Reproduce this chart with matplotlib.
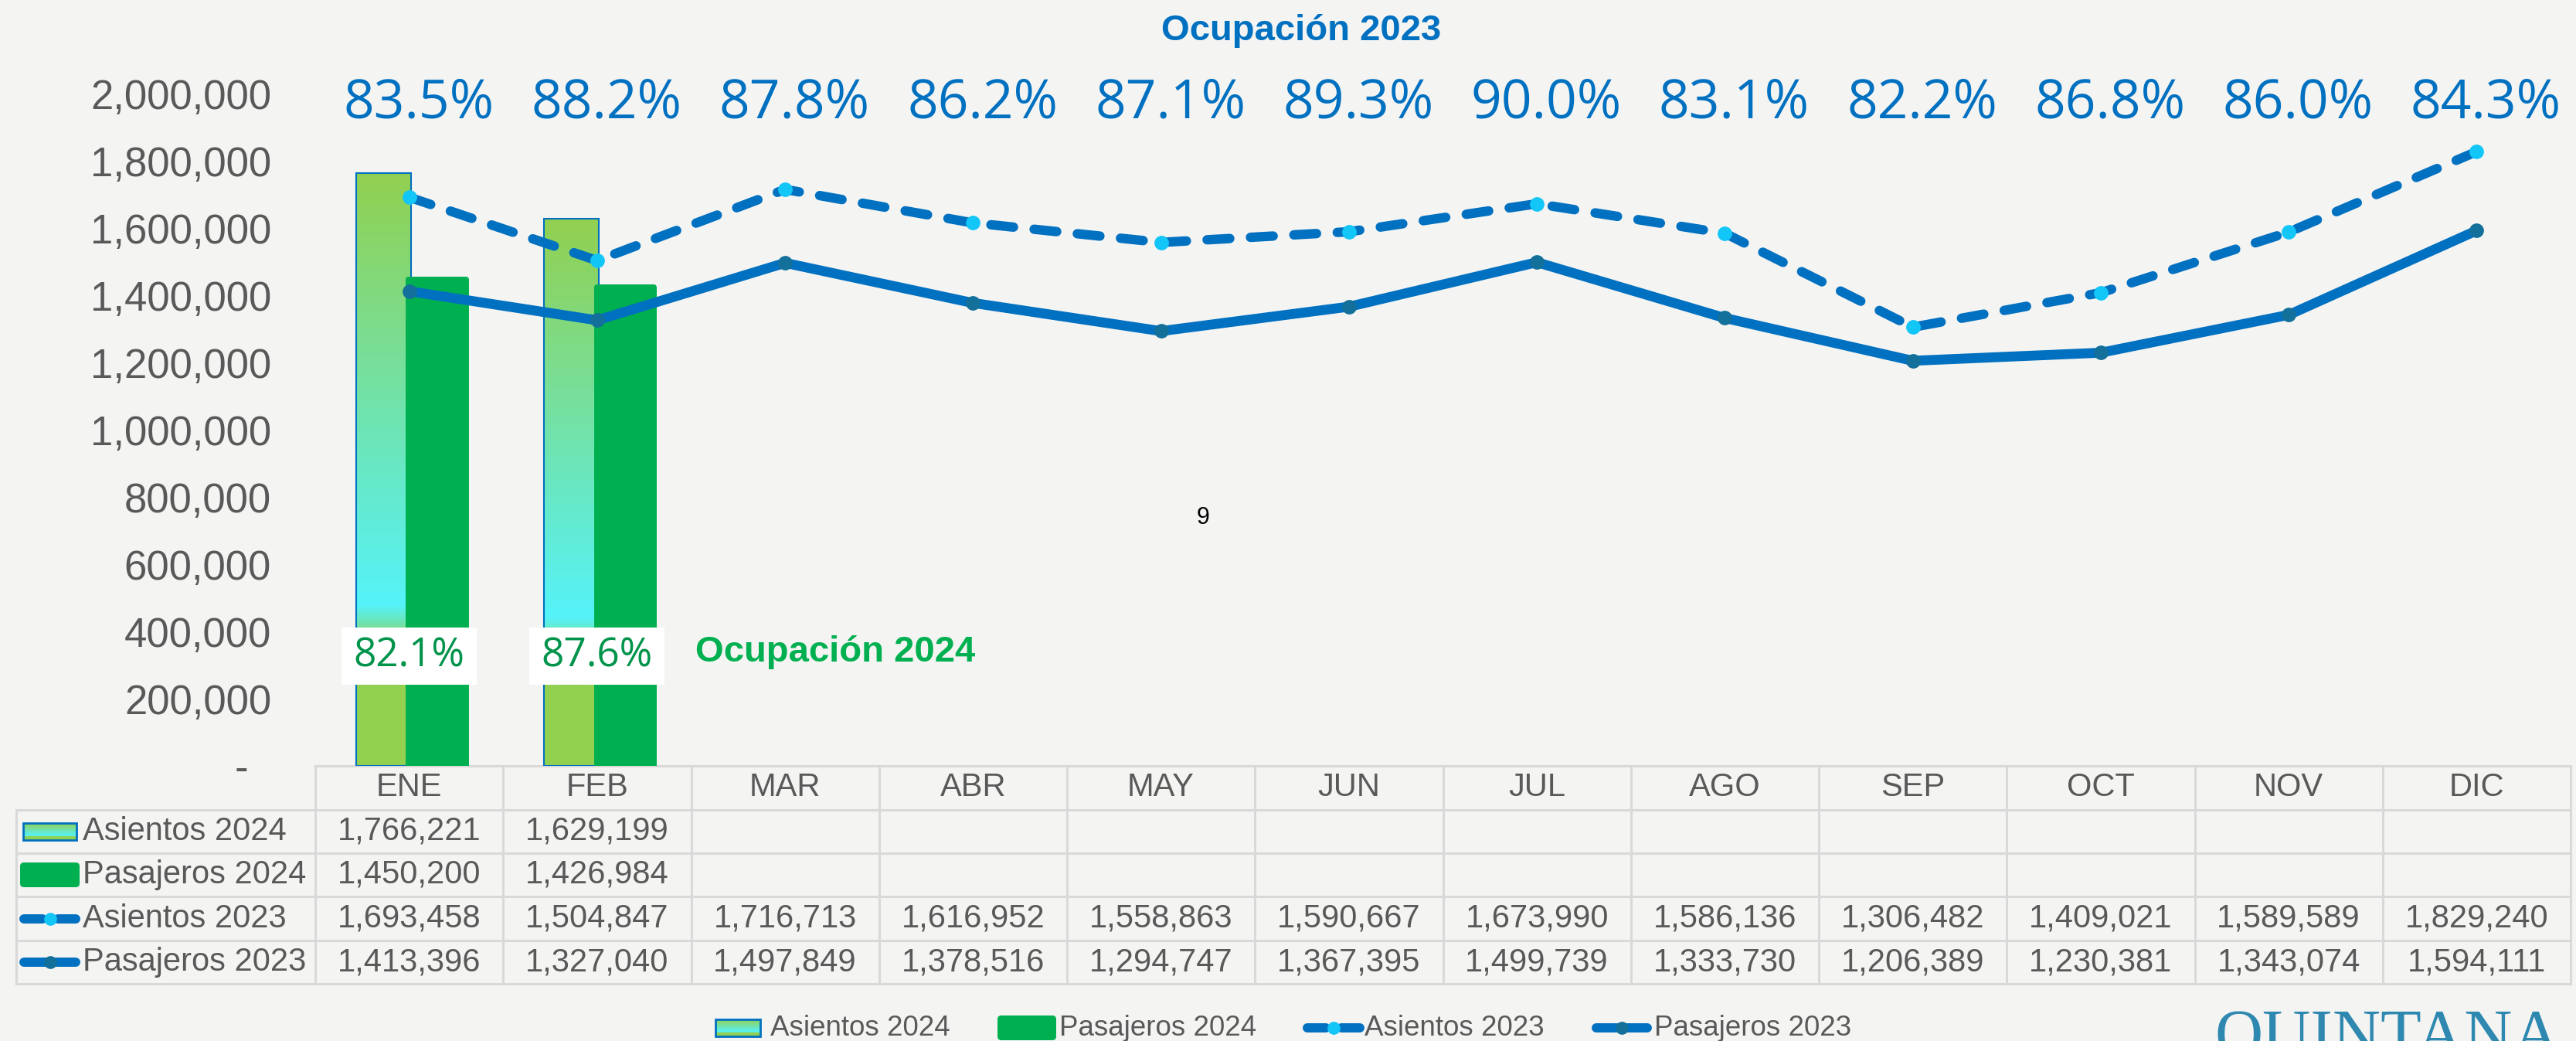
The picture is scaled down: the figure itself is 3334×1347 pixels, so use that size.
import numpy as np
import matplotlib.pyplot as plt
from matplotlib.colors import LinearSegmentedColormap
from matplotlib.patches import Rectangle, FancyBboxPatch
from matplotlib.ticker import FuncFormatter

plt.rcParams['font.family'] = ['Liberation Sans', 'DejaVu Sans']

# datos
meses = ['ENE', 'FEB', 'MAR', 'ABR', 'MAY', 'JUN', 'JUL', 'AGO', 'SEP', 'OCT', 'NOV', 'DIC']
asientos_2024 = [1766221, 1629199]
pasajeros_2024 = [1450200, 1426984]
asientos_2023 = [1693458, 1504847, 1716713, 1616952, 1558863, 1590667,
                 1673990, 1586136, 1306482, 1409021, 1589589, 1829240]
pasajeros_2023 = [1413396, 1327040, 1497849, 1378516, 1294747, 1367395,
                  1499739, 1333730, 1206389, 1230381, 1343074, 1594111]
ocupacion_2023 = ['83.5%', '88.2%', '87.8%', '86.2%', '87.1%', '89.3%',
                  '90.0%', '83.1%', '82.2%', '86.8%', '86.0%', '84.3%']
ocupacion_2024 = ['82.1%', '87.6%']
series = ['Asientos 2024', 'Pasajeros 2024', 'Asientos 2023', 'Pasajeros 2023']

# colores
AZUL = '#0070C0'
CIAN = '#12C6F8'
MARCA_PAS = '#13709A'
VERDE = '#00B050'
VERDE_TXT = '#00934A'
GRIS = '#595959'
REJILLA = '#D9D9D9'
FONDO = '#F4F4F3'
cmap_asientos = LinearSegmentedColormap.from_list(
    'asientos', [(0, '#92D050'), (0.2, '#92D050'), (0.27, '#55F3FA'), (1, '#92D050')])
grad = np.linspace(0, 1, 256).reshape(-1, 1)

W, H = 3334, 1347
fig = plt.figure(figsize=(W / 100, H / 100), dpi=100, facecolor=FONDO)

# capa en pixeles para tabla, leyenda y textos sueltos
ov = fig.add_axes([0, 0, 1, 1], zorder=0)
ov.set_xlim(0, W)
ov.set_ylim(H, 0)
ov.axis('off')

x_ini, x_fin = 408, 3327
y_cero, y_tope = 991, 122
ax = fig.add_axes([x_ini / W, (H - y_cero) / H, (x_fin - x_ini) / W, (y_cero - y_tope) / H], zorder=1)
ax.patch.set_alpha(0)
for s in ax.spines.values():
    s.set_visible(False)

# barras 2024
x24 = np.arange(len(asientos_2024))
barras_a = ax.bar(x24 - 0.282, asientos_2024, width=0.29, align='edge',
                  color='none', edgecolor=AZUL, linewidth=1.5, zorder=3)
for b in barras_a:
    im = ax.imshow(grad, extent=[b.get_x(), b.get_x() + b.get_width(), 0, b.get_height()],
                   origin='lower', aspect='auto', cmap=cmap_asientos, zorder=2)
    im.set_clip_path(b)
ax.bar(x24 - 0.005, pasajeros_2024, width=0.305, align='edge', color=VERDE,
       edgecolor=VERDE, linewidth=5, joinstyle='round', zorder=4)

# lineas 2023
x23 = np.arange(len(meses))
ax.plot(x23, asientos_2023, color=AZUL, lw=8.8, dashes=(2.4, 2.2), dash_capstyle='round',
        marker='o', ms=12.5, mfc=CIAN, mec=CIAN, zorder=5)
ax.plot(x23, pasajeros_2023, color=AZUL, lw=9.2, solid_capstyle='round', solid_joinstyle='round',
        marker='o', ms=12.5, mfc=MARCA_PAS, mec=MARCA_PAS, zorder=6)

ax.set_xlim(-0.5, len(meses) - 0.5)
ax.set_ylim(0, 2000000)
ax.set_xticks([])
ax.set_yticks(np.arange(0, 2000001, 200000))
ax.yaxis.set_major_formatter(FuncFormatter(lambda v, p: f'{v:,.0f}' if v else '-  '))
ax.tick_params(axis='y', length=0, pad=41, labelsize=38, labelcolor=GRIS)

# ocupacion 2023 arriba
for i, t in enumerate(ocupacion_2023):
    ax.text(i + 0.05, 1972000, t, ha='center', va='center', fontsize=50, color=AZUL,
            family='Open Sans', clip_on=False, zorder=7)

# ocupacion 2024 en cajas blancas
for i, t in enumerate(ocupacion_2024):
    ax.add_patch(Rectangle((i - 0.36, 242000), 0.72, 170000, fc='white', ec='none', zorder=7))
    ax.text(i, 327000, t, ha='center', va='center', fontsize=37, color=VERDE_TXT,
            family='Open Sans', zorder=8)

ov.text(1684, 40, 'Ocupación 2023', ha='center', va='center', fontsize=34,
        fontweight='bold', color=AZUL)
ov.text(900, 844, 'Ocupación 2024', ha='left', va='center', fontsize=34,
        fontweight='bold', color=VERDE)
ov.text(1557, 670, '9', ha='center', va='center', fontsize=22, color='black')


def icono(kind, x0, x1, yc):
    xm = (x0 + x1) / 2
    if kind == 0:
        ov.imshow(grad, extent=[x0 + 5, x1 - 5, yc + 11, yc - 11], origin='lower',
                  aspect='auto', cmap=cmap_asientos, zorder=3)
        ov.add_patch(Rectangle((x0 + 5, yc - 11), x1 - x0 - 10, 22, fc='none', ec=AZUL, lw=2, zorder=4))
    elif kind == 1:
        ov.add_patch(FancyBboxPatch((x0 + 6, yc - 11), x1 - x0 - 12, 22,
                                    boxstyle='round,pad=5', fc=VERDE, ec='none', zorder=3))
    elif kind == 2:
        ov.plot([x0 + 6, xm - 10], [yc, yc], color=AZUL, lw=8.6, solid_capstyle='round', zorder=3)
        ov.plot([xm + 10, x1 - 6], [yc, yc], color=AZUL, lw=8.6, solid_capstyle='round', zorder=3)
        ov.plot([xm], [yc], 'o', ms=11, color=CIAN, zorder=4)
    else:
        ov.plot([x0 + 6, x1 - 6], [yc, yc], color=AZUL, lw=8.6, solid_capstyle='round', zorder=3)
        ov.plot([xm], [yc], 'o', ms=11, color=MARCA_PAS, zorder=4)


# tabla de datos
col_w = (x_fin - x_ini) / len(meses)
filas = [991, 1048, 1104, 1160, 1217, 1273]
lab_x0 = 21
ov.plot([x_ini, x_fin], [filas[0], filas[0]], color=REJILLA, lw=2.2, zorder=1)
for y in filas[1:]:
    ov.plot([lab_x0, x_fin], [y, y], color=REJILLA, lw=2.2, zorder=1)
ov.plot([lab_x0, lab_x0], [filas[1], filas[-1]], color=REJILLA, lw=2.2, zorder=1)
for k in range(len(meses) + 1):
    xv = x_ini + k * col_w
    ov.plot([xv, xv], [filas[0], filas[-1]], color=REJILLA, lw=2.2, zorder=1)

for k, m in enumerate(meses):
    ov.text(x_ini + (k + 0.5) * col_w, (filas[0] + filas[1]) / 2, m, ha='center', va='center',
            fontsize=30, color=GRIS)

valores = [asientos_2024, pasajeros_2024, asientos_2023, pasajeros_2023]
for r, (nombre, vals) in enumerate(zip(series, valores)):
    yc = (filas[r + 1] + filas[r + 2]) / 2
    icono(r, 25, 104, yc)
    ov.text(107, yc, nombre, ha='left', va='center', fontsize=30, color=GRIS)
    for k, v in enumerate(vals):
        ov.text(x_ini + (k + 0.5) * col_w, yc, f'{v:,}', ha='center', va='center',
                fontsize=30, color=GRIS)

# leyenda inferior
ley_icono = [(921, 989), (1290, 1368), (1686, 1766), (2060, 2138)]
ley_texto = [997, 1371, 1766, 2141]
for r, nombre in enumerate(series):
    icono(r, ley_icono[r][0], ley_icono[r][1], 1330)
    ov.text(ley_texto[r], 1330, nombre, ha='left', va='center', fontsize=26.5, color=GRIS)

ov.text(2866, 1366, 'QUINTANA', ha='left', va='baseline', fontsize=62,
        family='Liberation Serif', color='#2E88B0', clip_on=False)

ov.set_xlim(0, W)
ov.set_ylim(H, 0)

fig.savefig('out.png', dpi=100, facecolor=FONDO)
